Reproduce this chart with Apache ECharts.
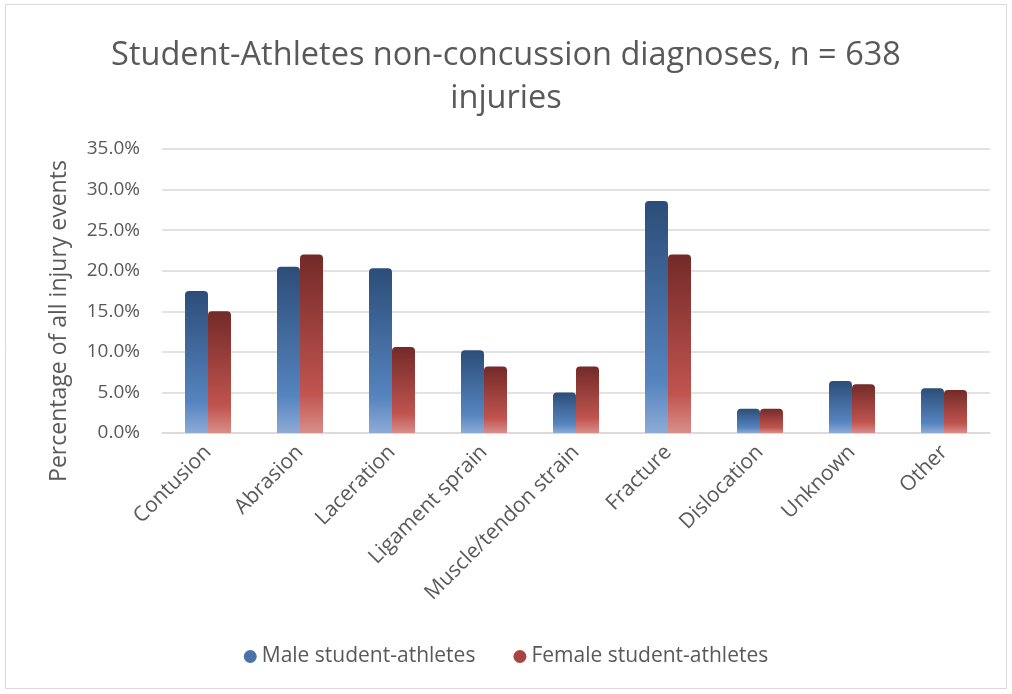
<!DOCTYPE html>
<html>
<head>
<meta charset="utf-8">
<script src="https://cdn.jsdelivr.net/npm/echarts@6/dist/echarts.min.js"></script>
<style>
html,body{margin:0;padding:0;background:#fff;}
#chart{width:1012px;height:694px;}
</style>
</head>
<body>
<div id="chart"></div>
<script>
const categories = ["Contusion","Abrasion","Laceration","Ligament sprain","Muscle/tendon strain","Fracture","Dislocation","Unknown","Other"];
const maleValues = [17.5, 20.5, 20.3, 10.2, 5.0, 28.6, 3.0, 6.4, 5.5];
const femaleValues = [15.0, 22.0, 10.6, 8.2, 8.2, 22.0, 3.0, 6.0, 5.3];
const seriesNames = ["Male student-athletes","Female student-athletes"];
const titleText = "Student-Athletes non-concussion diagnoses, n = 638\ninjuries";
const yAxisName = "Percentage of all injury events";

const FONT = "Open Sans";
function grad(top, mid, bottom){
  return new echarts.graphic.LinearGradient(0,0,0,1,[
    {offset:0,color:top},{offset:0.78,color:mid},{offset:1,color:bottom}
  ]);
}
const chart = echarts.init(document.getElementById('chart'), null, {renderer:'canvas'});
chart.setOption({
  backgroundColor:'#fff',
  animation:false,
  textStyle:{fontFamily:FONT},
  graphic:[
    {type:'rect',shape:{x:5.5,y:4.5,width:1001,height:684},style:{fill:'none',stroke:'#d9d9d9',lineWidth:1}},
    {type:'text',x:59,y:321,rotation:Math.PI/2,
     style:{text:yAxisName,fontFamily:FONT,fontSize:23,fill:'#595959',textAlign:'center',textVerticalAlign:'middle'}}
  ],
  title:{
    text:titleText, left:'center', top:29,
    textStyle:{fontFamily:FONT,fontSize:32.5,fontWeight:'normal',color:'#595959',lineHeight:43}
  },
  legend:{
    bottom:22, left:'center', itemGap:38, icon:'circle', itemWidth:13, itemHeight:13,
    textStyle:{fontFamily:FONT,fontSize:21,color:'#595959'},
    data:[
      {name:seriesNames[0], itemStyle:{color:'#4a72a8'}},
      {name:seriesNames[1], itemStyle:{color:'#a84542'}}
    ]
  },
  grid:{left:162,right:22,top:149,bottom:261,containLabel:false},
  xAxis:{
    type:'category', data:categories,
    axisLine:{lineStyle:{color:'#d9d9d9',width:1.5}},
    axisTick:{show:false},
    axisLabel:{rotate:45,fontFamily:FONT,fontSize:21,color:'#595959',margin:16,interval:0}
  },
  yAxis:{
    type:'value', min:0, max:35, interval:5,
    axisLine:{show:false}, axisTick:{show:false},
    axisLabel:{formatter:v=>v.toFixed(1)+'%',fontFamily:FONT,fontSize:19,color:'#595959',margin:22},
    splitLine:{lineStyle:{color:'#d9d9d9',width:1.5}}
  },
  series:[
    {name:seriesNames[0],type:'bar',data:maleValues,barWidth:23,barGap:'0%',
     itemStyle:{color:grad('#2c4d78','#5584bf','#8dabd6'),borderRadius:[4,4,0,0]}},
    {name:seriesNames[1],type:'bar',data:femaleValues,barWidth:23,
     itemStyle:{color:grad('#732a28','#c0544f','#d98e8a'),borderRadius:[4,4,0,0]}}
  ]
});
</script>
</body>
</html>
